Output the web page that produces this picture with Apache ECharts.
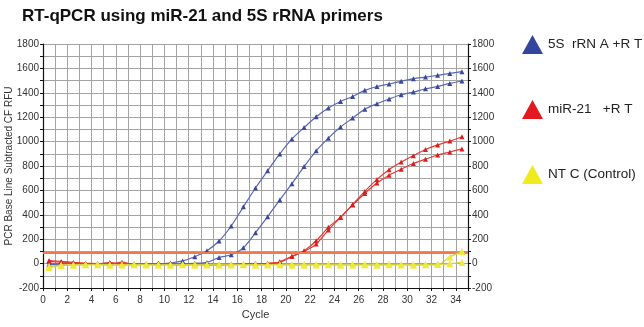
<!DOCTYPE html>
<html>
<head>
<meta charset="utf-8">
<script src="https://cdn.jsdelivr.net/npm/echarts@6/dist/echarts.min.js"></script>
<style>
  html, body { margin: 0; padding: 0; background: #ffffff; }
  #chart { width: 644px; height: 327px; }
</style>
</head>
<body>
<div id="chart"></div>
<script>
// Cycle positions (points sit half way between integer ticks)
const cycles = [0.5, 1.5, 2.5, 3.5, 4.5, 5.5, 6.5, 7.5, 8.5, 9.5, 10.5, 11.5, 12.5, 13.5, 14.5,
  15.5, 16.5, 17.5, 18.5, 19.5, 20.5, 21.5, 22.5, 23.5, 24.5, 25.5, 26.5, 27.5, 28.5, 29.5,
  30.5, 31.5, 32.5, 33.5, 34.5];

// Baseline-subtracted RFU per cycle
const rRNA_A = [-5, 0, 3, -2, 0, 4, -3, -8, -5, -2, 5, 22, 56, 105, 185, 308, 465, 620, 762, 899,
  1022, 1115, 1203, 1275, 1329, 1370, 1420, 1452, 1472, 1494, 1516, 1529, 1543, 1559, 1573];
const rRNA_B = [-8, -4, 2, 0, -3, 5, -2, -6, -4, 0, -5, -3, 2, 10, 50, 72, 130, 253, 385, 522,
  655, 795, 924, 1028, 1119, 1193, 1266, 1310, 1349, 1384, 1406, 1433, 1452, 1477, 1497];
const miR21_A = [25, 18, 10, 4, 0, -3, 12, -6, -4, 0, 2, -8, -6, -4, -10, -8, -5, -3, 2, 15,
  60, 105, 187, 297, 380, 485, 592, 690, 770, 832, 885, 935, 973, 1004, 1040];
const miR21_B = [18, 12, 6, 0, -4, 8, -8, -2, -6, 3, -9, -10, -5, -12, -8, -6, -2, 0, 0, 10,
  58, 100, 160, 275, 378, 481, 575, 660, 725, 774, 820, 856, 890, 915, 940];
const ntc_A = [-22, -12, -10, -8, -10, -12, -8, -10, -9, -10, -11, -8, -10, -12, -9, -10, -8, -10,
  -9, -10, -11, -9, -10, -8, -10, -12, -9, -10, -8, -10, -9, -8, -6, -2, 10];
const ntc_B = [-35, -15, -12, -10, -6, -10, -12, -8, -10, -12, -9, -10, -11, -8, -12, -10, -9, -12,
  -10, -8, -10, -12, -10, -9, -11, -10, -8, -12, -10, -9, -12, -10, -8, 55, 100];

const threshold = 88;

const yTicks = [-200, 0, 200, 400, 600, 800, 1000, 1200, 1400, 1600, 1800];
const xTicks = [0, 2, 4, 6, 8, 10, 12, 14, 16, 18, 20, 22, 24, 26, 28, 30, 32, 34];

const legendNames = ['5S  rRN A +R T', 'miR-21   +R T', 'NT C (Control)'];
const colBlueLine = '#5a67b3', colBlueMark = '#3a489c';
const colRedLine = '#e53a36', colRedMark = '#d9201f';
const colYellowLine = '#d6cf3c', colYellowMark = '#efe93c';

function pairs(vals) {
  return cycles.map((c, i) => [c, vals[i]]);
}

function curve(name, vals, lineCol, markCol, size, z) {
  return {
    name: name,
    type: 'line',
    data: pairs(vals),
    symbol: 'triangle',
    symbolSize: size,
    showSymbol: true,
    smooth: 0.3,
    z: z,
    lineStyle: { color: lineCol, width: 1.2 },
    itemStyle: { color: markCol },
    animation: false
  };
}

const axisFont = { fontFamily: 'Liberation Sans, Arial, sans-serif', fontSize: 10, color: '#333' };

const chart = echarts.init(document.getElementById('chart'));
chart.setOption({
  backgroundColor: '#ffffff',
  animation: false,
  title: {
    text: 'RT-qPCR using miR-21 and 5S rRNA primers',
    left: 17, top: 3,
    textStyle: { fontFamily: 'Liberation Sans, Arial, sans-serif', fontWeight: 'bold', fontSize: 17, color: '#111' }
  },
  legend: {
    orient: 'vertical',
    left: 517, top: 30,
    itemWidth: 21, itemHeight: 19,
    itemGap: 46,
    icon: 'triangle',
    textStyle: { fontFamily: 'Liberation Sans, Arial, sans-serif', fontSize: 13.5, color: '#222' },
    data: [
      { name: legendNames[0], itemStyle: { color: '#33449c' } },
      { name: legendNames[1], itemStyle: { color: '#e3191f' } },
      { name: legendNames[2], itemStyle: { color: '#f1ea1e' } }
    ],
    selectedMode: false
  },
  grid: { left: 43, right: 176, top: 44, bottom: 39, outerBoundsMode: 'none', containLabel: false },
  xAxis: {
    type: 'value', min: 0, max: 35, interval: 1,
    name: 'Cycle', nameLocation: 'middle', nameGap: 21, nameMoveOverlap: false,
    nameTextStyle: { fontFamily: 'Liberation Sans, Arial, sans-serif', fontSize: 11, color: '#333' },
    axisLine: { onZero: false, lineStyle: { color: '#111', width: 1.2 } },
    axisTick: { show: true, length: 3, lineStyle: { color: '#111' } },
    axisLabel: Object.assign({ margin: 7, formatter: v => xTicks.indexOf(v) >= 0 ? String(v) : '' }, axisFont),
    splitLine: { show: true, lineStyle: { color: '#a3a3a3', width: 1 } }
  },
  yAxis: [
    {
      type: 'value', min: -200, max: 1800, interval: 100,
      name: 'PCR Base Line Subtracted CF RFU', nameLocation: 'middle', nameGap: 29, nameRotate: 90,
      nameMoveOverlap: false,
      nameTextStyle: { fontFamily: 'Liberation Sans, Arial, sans-serif', fontSize: 10, color: '#333' },
      axisLine: { show: true, onZero: false, lineStyle: { color: '#111', width: 1.2 } },
      axisTick: { show: true, length: 3, lineStyle: { color: '#111' } },
      axisLabel: Object.assign({ margin: 4, formatter: v => yTicks.indexOf(v) >= 0 ? String(v) : '' }, axisFont),
      splitLine: { show: true, lineStyle: { color: '#a3a3a3', width: 1 } }
    },
    {
      type: 'value', min: -200, max: 1800, interval: 100, position: 'right',
      axisLine: { show: true, onZero: false, lineStyle: { color: '#111', width: 1.2 } },
      axisTick: { show: true, length: 3, lineStyle: { color: '#111' } },
      axisLabel: Object.assign({ margin: 4, formatter: v => yTicks.indexOf(v) >= 0 ? String(v) : '' }, axisFont),
      splitLine: { show: false }
    }
  ],
  series: [
    Object.assign(curve(legendNames[0], rRNA_A, colBlueLine, colBlueMark, 5, 3), {
      markLine: {
        silent: true, symbol: 'none', label: { show: false },
        lineStyle: { color: '#f07a4a', width: 2, type: 'solid' },
        data: [{ yAxis: threshold }]
      }
    }),
    curve(legendNames[0], rRNA_B, colBlueLine, colBlueMark, 5, 3),
    curve(legendNames[1], miR21_A, colRedLine, colRedMark, 5, 4),
    curve(legendNames[1], miR21_B, colRedLine, colRedMark, 5, 4),
    curve(legendNames[2], ntc_A, colYellowLine, colYellowMark, 7, 5),
    curve(legendNames[2], ntc_B, colYellowLine, colYellowMark, 7, 5)
  ]
});
</script>
</body>
</html>
